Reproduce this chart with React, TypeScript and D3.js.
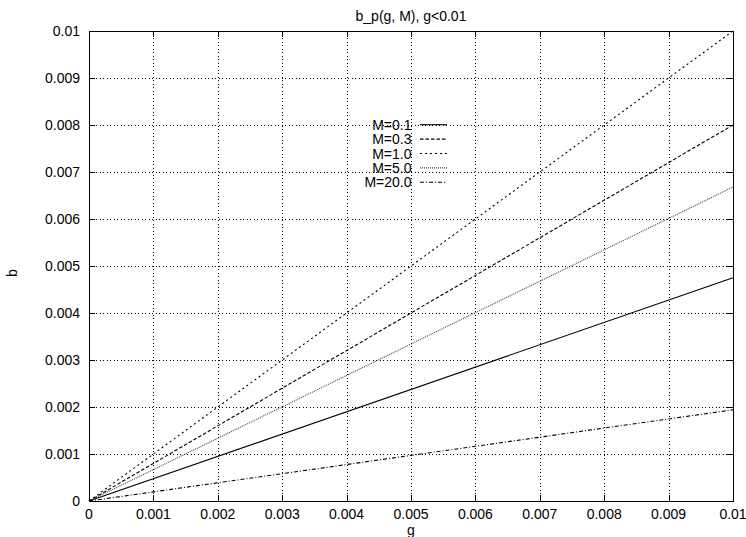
import React from "react";
import * as d3 from "d3";

// Sample points along g (the curves are straight lines through the origin)
const gValues = [0, 0.01];

const seriesNames = ["M=0.1", "M=0.3", "M=1.0", "M=5.0", "M=20.0"];
const bM01 = [0, 0.00475];
const bM03 = [0, 0.008];
const bM10 = [0, 0.01];
const bM50 = [0, 0.00668];
const bM200 = [0, 0.00194];
const seriesValues = [bM01, bM03, bM10, bM50, bM200];

const xTicks = [0, 0.001, 0.002, 0.003, 0.004, 0.005, 0.006, 0.007, 0.008, 0.009, 0.01];
const yTicks = [0, 0.001, 0.002, 0.003, 0.004, 0.005, 0.006, 0.007, 0.008, 0.009, 0.01];
const tickLabels = ["0", "0.001", "0.002", "0.003", "0.004", "0.005", "0.006", "0.007", "0.008", "0.009", "0.01"];

const dashes = ["none", "3.5,2", "2,3", "1,1", "4,2,1,2"];
const strokes = ["#000", "#000", "#000", "#444", "#000"];

const W = 746;
const H = 537;
const left = 89;
const right = 733;
const top = 31;
const bottom = 501;
const font = "'Liberation Sans', Arial, Helvetica, sans-serif";

export default function App() {
  const x = d3.scaleLinear().domain([0, 0.01]).range([left, right]);
  const y = d3.scaleLinear().domain([0, 0.01]).range([bottom, top]);
  const line = d3
    .line<number>()
    .x((_, i) => x(gValues[i]))
    .y((d) => y(d));
  const tl = 6;

  return (
    <svg
      width={W}
      height={H}
      style={{ position: "absolute", left: 0, top: 0, background: "#fff" }}
      fontFamily={font}
      fontSize={14}
    >
      <rect x={0} y={0} width={W} height={H} fill="#fff" />
      {/* grid */}
      <g stroke="#000" strokeWidth={1} strokeDasharray="1,2.5" shapeRendering="crispEdges">
        {xTicks.slice(1, -1).map((t) => (
          <line key={"gx" + t} x1={Math.round(x(t)) + 0.5} x2={Math.round(x(t)) + 0.5} y1={top} y2={bottom} />
        ))}
        {yTicks.slice(1, -1).map((t) => (
          <line key={"gy" + t} y1={Math.round(y(t)) + 0.5} y2={Math.round(y(t)) + 0.5} x1={left} x2={right} />
        ))}
      </g>
      {/* ticks, mirrored on all sides */}
      <g stroke="#000" strokeWidth={1} shapeRendering="crispEdges">
        {xTicks.map((t) => {
          const px = Math.round(x(t)) + 0.5;
          return (
            <g key={"tx" + t}>
              <line x1={px} x2={px} y1={bottom} y2={bottom - tl} />
              <line x1={px} x2={px} y1={top} y2={top + tl} />
            </g>
          );
        })}
        {yTicks.map((t) => {
          const py = Math.round(y(t)) + 0.5;
          return (
            <g key={"ty" + t}>
              <line x1={left} x2={left + tl} y1={py} y2={py} />
              <line x1={right} x2={right - tl} y1={py} y2={py} />
            </g>
          );
        })}
      </g>
      {/* curves */}
      <g fill="none" strokeWidth={1.1}>
        {seriesValues.map((vals, i) => (
          <path key={seriesNames[i]} d={line(vals) || ""} stroke={strokes[i]} strokeDasharray={dashes[i]} />
        ))}
      </g>
      {/* border */}
      <rect x={left + 0.5} y={top + 0.5} width={right - left} height={bottom - top} fill="none" stroke="#000" strokeWidth={1} shapeRendering="crispEdges" />
      {/* tick labels */}
      <g fill="#000">
        {xTicks.map((t, i) => (
          <text key={"lx" + t} x={x(t)} y={519} textAnchor="middle">
            {tickLabels[i]}
          </text>
        ))}
        {yTicks.map((t, i) => (
          <text key={"ly" + t} x={80} y={y(t) + 5} textAnchor="end">
            {tickLabels[i]}
          </text>
        ))}
      </g>
      {/* titles */}
      <text x={(left + right) / 2} y={21} textAnchor="middle">
        b_p(g, M), g&lt;0.01
      </text>
      <text x={(left + right) / 2} y={535} textAnchor="middle">
        g
      </text>
      <text transform="translate(17,273) rotate(-90)" textAnchor="middle">
        b
      </text>
      {/* legend */}
      <g>
        {seriesNames.map((name, i) => {
          const ly = 124.7 + i * 14.4;
          return (
            <g key={"leg" + name}>
              <text x={411.5} y={ly + 5} textAnchor="end">
                {name}
              </text>
              <line x1={420} x2={447} y1={ly} y2={ly} stroke={strokes[i]} strokeWidth={1.1} strokeDasharray={dashes[i]} />
            </g>
          );
        })}
      </g>
    </svg>
  );
}
